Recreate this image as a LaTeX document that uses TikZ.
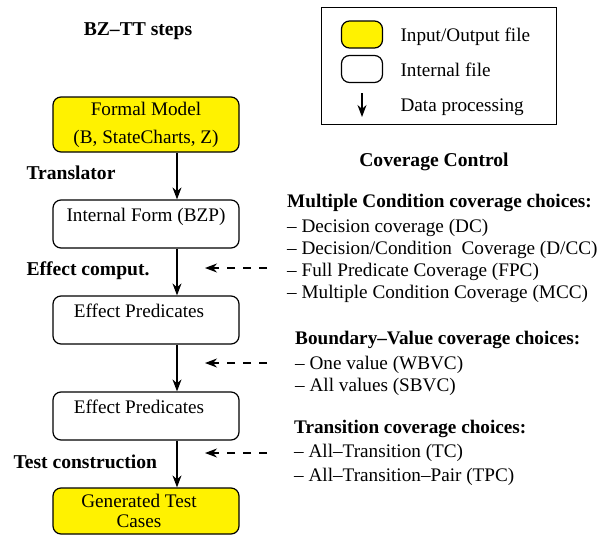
\documentclass[tikz,border=0pt]{standalone}
\usepackage{fontspec}
\setmainfont{Liberation Serif}
\usetikzlibrary{arrows.meta}

\tikzset{
    filebox/.style={draw, line width=1.2pt, rounded corners=8pt, align=center,
        inner sep=0pt, minimum width=186pt, minimum height=48pt},
    iobox/.style={filebox, fill=yellow},
    intbox/.style={filebox, fill=white},
    flow/.style={-{Stealth[length=12pt, width=9pt]}, line width=1.2pt},
    choice/.style={flow, dash pattern=on 8pt off 8pt},
    steplabel/.style={font=\fontsize{19.6}{22}\selectfont\bfseries, anchor=base west},
    choicelist/.style={align=left, anchor=base west, inner sep=0pt},
}

\begin{document}
\begin{tikzpicture}[x=1pt, y=-1pt, font=\fontsize{19.2}{22}\selectfont]
    \useasboundingbox (0,0) rectangle (608,536);

    % chain of files
    \node[steplabel, anchor=base] (title) at (138,35) {BZ–TT steps};
    \node[iobox, minimum height=55pt] (model) at (146,124.5)
        {Formal Model\\[6pt](B, StateCharts, Z)};
    \node[intbox] (bzp) at (146,224) {Internal Form (BZP)\\[-10pt]\strut};
    \node[intbox] (eff1) at (146,320) {Effect Predicates\hspace*{14pt}\\[-10pt]\strut};
    \node[intbox] (eff2) at (146,416) {Effect Predicates\hspace*{14pt}\\[-10pt]\strut};
    \node[iobox, minimum height=46pt] (tests) at (146,511)
        {Generated Test\hspace*{14pt}\\[-2pt]Cases\hspace*{14pt}};

    % processing steps
    \coordinate (flowx) at (177,0);
    \draw[flow] (model.south -| flowx) -- (bzp.north -| flowx);
    \draw[flow] (bzp.south -| flowx) -- (eff1.north -| flowx);
    \draw[flow] (eff1.south -| flowx) -- (eff2.north -| flowx);
    \draw[flow] (eff2.south -| flowx) -- (tests.north -| flowx);
    \node[steplabel] (translator) at (23,179) {Translator};
    \node[steplabel] (comput) at (23,275) {Effect comput.};
    \node[steplabel] (construct) at (10,468) {Test construction};

    % legend
    \node[draw, line width=1pt, minimum width=235pt, minimum height=117pt] (legend) at (438.5,65.5) {};
    \node[iobox, minimum width=41pt, minimum height=27pt] (keyio) at (362,34.5) {};
    \node[intbox, minimum width=41pt, minimum height=27pt] (keyint) at (362,69) {};
    \coordinate (keytop) at (362,93);
    \coordinate (keybot) at (362,117);
    \draw[flow] (keytop) -- (keybot);
    \node[anchor=base west] (ioname) at (397,41) {Input/Output file};
    \node[anchor=base west] (intname) at (397,76) {Internal file};
    \node[anchor=base west] (flowname) at (397,111) {Data processing};

    % coverage choices (base = last line)
    \node[steplabel, anchor=base] (coverage) at (434,166) {Coverage Control};
    \node[choicelist] (mcc) at (287,298)
        {\textbf{Multiple Condition coverage choices:}\\[3pt]
         – Decision coverage (DC)\\
         – Decision/Condition\ \ Coverage (D/CC)\\
         – Full Predicate Coverage (FPC)\\
         – Multiple Condition Coverage (MCC)};
    \node[choicelist] (bvc) at (295,391)
        {\textbf{Boundary–Value coverage choices:}\\[3pt]
         – One value (WBVC)\\
         – All values (SBVC)};
    \node[choicelist] (trans) at (294,481)
        {\textbf{Transition coverage choices:}\\[2pt]
         – All–Transition (TC)\\[2pt]
         – All–Transition–Pair (TPC)};

    \foreach \y [count=\i] in {268,363,453} {
        \coordinate (from\i) at (267,\y);
        \coordinate (to\i) at (205,\y);
        \draw[choice] (from\i) -- (to\i);
    }
\end{tikzpicture}
\end{document}
